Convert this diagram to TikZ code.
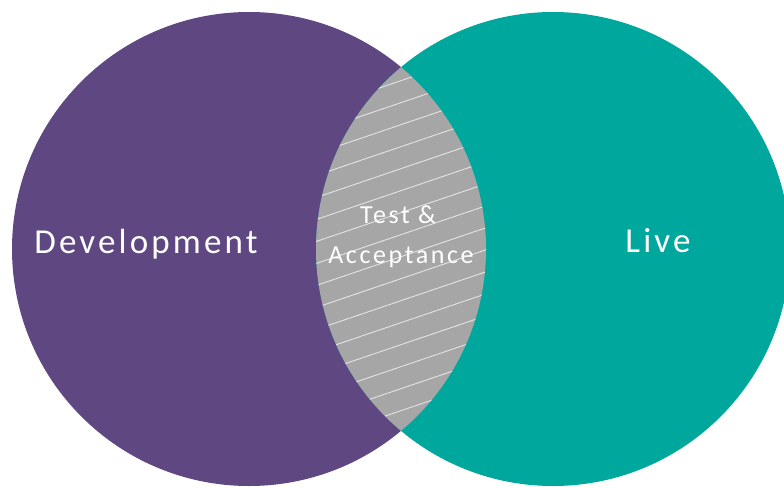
\documentclass[tikz,border=0pt]{standalone}
\usepackage{fontspec}
\setmainfont{Carlito}
\newfontfamily\biglbl[LetterSpace=9]{Carlito}
\newfontfamily\smalllbl[LetterSpace=10]{Carlito}
\definecolor{devpurple}{RGB}{95,72,130}
\definecolor{liveteal}{RGB}{0,167,157}
\definecolor{lensgray}{RGB}{166,166,166}
\definecolor{hatchline}{RGB}{228,228,228}
\begin{document}
\begin{tikzpicture}[x=1pt,y=-1pt,
  setcircle/.style={circle,inner sep=0pt,minimum size=474pt},
  biglabel/.style={text=white,font=\biglbl\fontsize{35}{38}\selectfont,anchor=base,inner sep=0pt},
  smalllabel/.style={text=white,font=\smalllbl\fontsize{26}{30}\selectfont,anchor=base,inner sep=0pt},
  hatch/.style={hatchline,line width=0.9pt}]
\useasboundingbox (0,0) rectangle (784,487);
\clip (0,0) rectangle (784,487);
\node[setcircle,fill=devpurple] (dev) at (249,249) {};
\node[setcircle,fill=liveteal] (live) at (553,249) {};
\begin{scope}
  \clip (249,249) circle[radius=237];
  \fill[lensgray] (553,249) circle[radius=237];
  \clip (553,249) circle[radius=237];
  \foreach \c in {27,49,...,640} {
    \draw[hatch] (300,\c) -- (500,\c-68);
  }
\end{scope}
\node[biglabel] (devlbl) at (146,253) {Development};
\node[biglabel] (livelbl) at (658,252) {Live};
\node[smalllabel] (testlbl) at (398,223) {Test \&};
\node[smalllabel] (acclbl) at (401,263.5) {Acceptance};
\end{tikzpicture}
\end{document}
